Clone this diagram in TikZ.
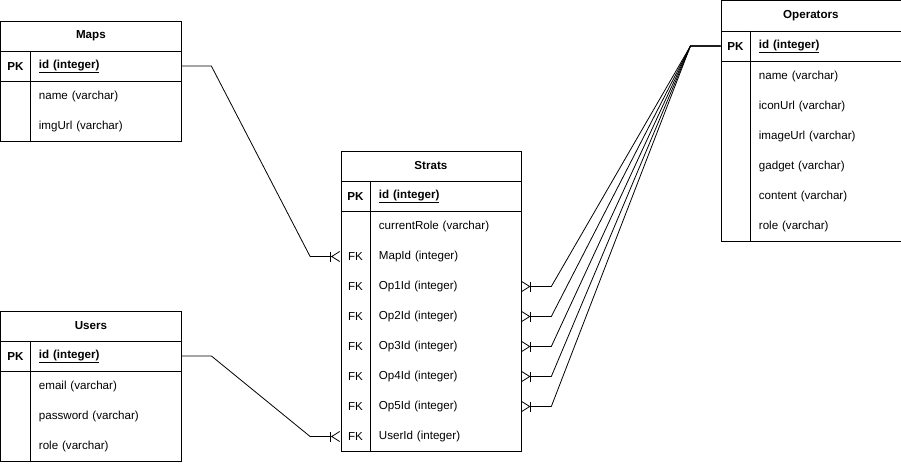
\documentclass[tikz,border=0pt]{standalone}
\usepackage{fontspec}
\setmainfont{Liberation Sans}
\usetikzlibrary{arrows.meta}
\newcommand\erfont{\fontsize{11.6}{14}\selectfont}
\tikzset{
  head/.style={draw, anchor=north west, minimum width=180pt, minimum height=30pt, inner sep=0pt, font=\erfont\bfseries},
  keyrow/.style={draw, anchor=north west, minimum width=180pt, minimum height=30pt, inner sep=0pt},
  body/.style={draw, anchor=north west, minimum width=180pt, inner sep=0pt},
  key/.style={minimum width=30pt, inner sep=0pt, yshift=-1pt},
  field/.style={anchor=west, text width=134pt, inner xsep=8pt, inner ysep=0pt, align=left, yshift=-1pt},
  many/.style={-{Bar[width=10pt]Straight Barb[reversed,length=8pt,width=10pt]}},
}
\begin{document}
\begin{tikzpicture}[x=1pt, y=-1pt, font=\erfont, line width=0.8pt]
  \useasboundingbox (-0.5,-0.5) rectangle (900.5,470.5);
  % Maps
  \node[head] (maps) at (0,20) {Maps};
  \node[keyrow] (mapspk) at (0,50) {};
  \node[key, font=\erfont\bfseries] (kmaps) at (15,65) {PK};
  \node[field, font=\erfont\bfseries] (mid) at (30,65) {\underline{id (integer)}};
  \node[body, minimum height=60pt] (mapsbody) at (0,80) {};
  \draw (30,50) -- (30,140);
  \node[field] (mname) at (30,95) {name (varchar)};
  \node[field] (mimg) at (30,125) {imgUrl (varchar)};
  % Users
  \node[head] (users) at (0,310) {Users};
  \node[keyrow] (userspk) at (0,340) {};
  \node[key, font=\erfont\bfseries] (kusers) at (15,355) {PK};
  \node[field, font=\erfont\bfseries] (uid) at (30,355) {\underline{id (integer)}};
  \node[body, minimum height=90pt] (usersbody) at (0,370) {};
  \draw (30,340) -- (30,460);
  \node[field] (umail) at (30,385) {email (varchar)};
  \node[field] (upass) at (30,415) {password (varchar)};
  \node[field] (urole) at (30,445) {role (varchar)};
  % Strats
  \node[head] (strats) at (340,150) {Strats};
  \node[keyrow] (stratspk) at (340,180) {};
  \node[key, font=\erfont\bfseries] (kstrats) at (355,195) {PK};
  \node[field, font=\erfont\bfseries] (sid) at (370,195) {\underline{id (integer)}};
  \node[body, minimum height=240pt] (stratsbody) at (340,210) {};
  \draw (370,180) -- (370,450);
  \node[field] (srole) at (370,225) {currentRole (varchar)};
  \foreach \n/\t [count=\i] in {map/MapId, op1/Op1Id, op2/Op2Id, op3/Op3Id, op4/Op4Id, op5/Op5Id, user/UserId}
    {
      \node[key] (k\n) at (355,225+30*\i) {FK};
      \node[field] (s\n) at (370,225+30*\i) {\t\ (integer)};
    }
  % Operators
  \node[head] (ops) at (720,0) {Operators};
  \node[keyrow] (opspk) at (720,30) {};
  \node[key, font=\erfont\bfseries] (kops) at (735,45) {PK};
  \node[field, font=\erfont\bfseries] (oid) at (750,45) {\underline{id (integer)}};
  \node[body, minimum height=180pt] (opsbody) at (720,60) {};
  \draw (750,30) -- (750,240);
  \node[field] (oname) at (750,75) {name (varchar)};
  \node[field] (oicon) at (750,105) {iconUrl (varchar)};
  \node[field] (oimage) at (750,135) {imageUrl (varchar)};
  \node[field] (ogadget) at (750,165) {gadget (varchar)};
  \node[field] (ocontent) at (750,195) {content (varchar)};
  \node[field] (orole) at (750,225) {role (varchar)};
  % relations
  \draw[many] (mapspk.east) -- ++(30,0) -- ([xshift=-30pt]kmap.west) -- (kmap.west);
  \draw[many] (userspk.east) -- ++(30,0) -- ([xshift=-30pt]kuser.west) -- (kuser.west);
  \foreach \n in {op1, op2, op3, op4, op5}
    \draw[many] (opspk.west) -- ++(-30,0) -- ([xshift=30pt]s\n.east) -- (s\n.east);
\end{tikzpicture}
\end{document}
